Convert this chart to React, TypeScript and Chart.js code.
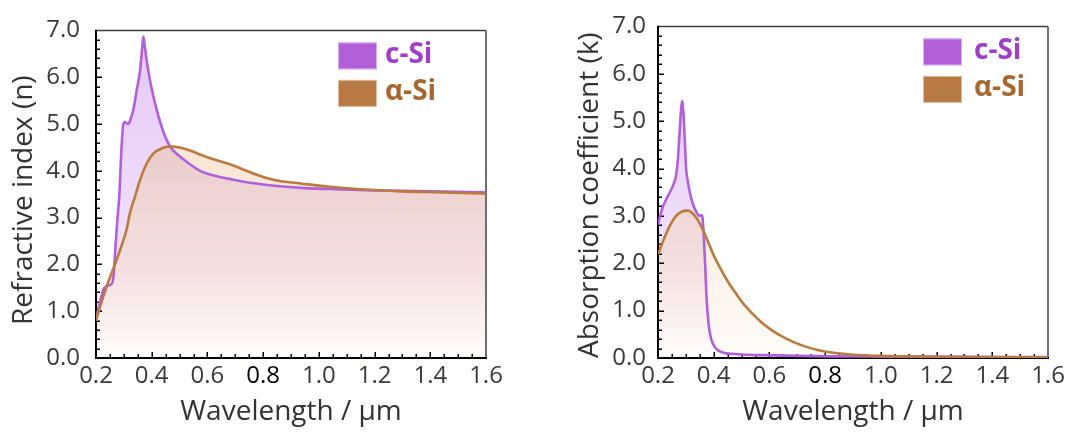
import { useEffect, useRef } from 'react';
import { Chart, registerables } from 'chart.js';

Chart.register(...registerables);

// ---------- axis definitions ----------
const X_MIN = 0.2;
const X_MAX = 1.6;
const X_STEP = 0.2;
const X_MINOR = 0.05;
const Y_MIN = 0;
const Y_MAX = 7;
const Y_STEP = 1;
const Y_MINOR = 0.2;

const seriesNames = ['c-Si', 'α-Si'];
const xTitle = 'Wavelength / µm';
const nTitle = 'Refractive index (n)';
const kTitle = 'Absorption coefficient (k)';

// ---------- refractive index n ----------
const nCSiWavelength = [
  0.2, 0.215, 0.228, 0.238, 0.25, 0.258, 0.263, 0.268, 0.276, 0.284, 0.29, 0.296,
  0.302, 0.31, 0.316, 0.325, 0.334, 0.346, 0.358, 0.364, 0.37, 0.376, 0.382, 0.388,
  0.4, 0.418, 0.442, 0.466, 0.5, 0.537, 0.573, 0.63, 0.693, 0.76, 0.86, 0.95, 1.04,
  1.2, 1.3, 1.4, 1.6,
];
const nCSiValue = [
  0.82, 1.22, 1.48, 1.53, 1.56, 1.6, 1.75, 2.2, 2.9, 3.5, 4.3, 4.9,
  5.04, 5.02, 5.0, 5.12, 5.3, 5.72, 6.13, 6.5, 6.87, 6.62, 6.35, 6.13,
  5.75, 5.3, 4.83, 4.52, 4.31, 4.14, 4.0, 3.89, 3.81, 3.74, 3.67, 3.63, 3.61,
  3.58, 3.57, 3.56, 3.54,
];
const nASiWavelength = [
  0.2, 0.22, 0.238, 0.25, 0.268, 0.286, 0.31, 0.322, 0.34, 0.358, 0.376, 0.394,
  0.412, 0.43, 0.45, 0.47, 0.5, 0.54, 0.573, 0.63, 0.681, 0.74, 0.8, 0.86, 0.933,
  1.04, 1.17, 1.3, 1.45, 1.6,
];
const nASiValue = [
  0.8, 1.2, 1.52, 1.72, 2.0, 2.3, 2.75, 3.1, 3.45, 3.8, 4.08, 4.28,
  4.4, 4.46, 4.51, 4.52, 4.5, 4.43, 4.35, 4.23, 4.14, 4.0, 3.87, 3.78, 3.73,
  3.66, 3.6, 3.56, 3.54, 3.51,
];

// ---------- absorption coefficient k ----------
const kCSiWavelength = [
  0.2, 0.215, 0.232, 0.245, 0.255, 0.263, 0.27, 0.276, 0.281, 0.287, 0.292, 0.297,
  0.301, 0.309, 0.318, 0.327, 0.338, 0.348, 0.356, 0.36, 0.364, 0.369, 0.375, 0.381,
  0.387, 0.393, 0.405, 0.416, 0.435, 0.46, 0.5, 0.577, 0.7, 0.82, 1.0, 1.3, 1.6,
];
const kCSiValue = [
  2.82, 3.15, 3.38, 3.52, 3.66, 3.8, 4.1, 4.6, 5.1, 5.42, 5.1, 4.5,
  4.0, 3.66, 3.4, 3.22, 3.08, 3.0, 3.02, 2.95, 2.6, 2.0, 1.2, 0.75,
  0.5, 0.36, 0.22, 0.16, 0.11, 0.09, 0.075, 0.06, 0.045, 0.035, 0.03, 0.025, 0.02,
];
const kASiWavelength = [
  0.2, 0.222, 0.243, 0.265, 0.285, 0.307, 0.325, 0.342, 0.36, 0.38, 0.4, 0.425,
  0.45, 0.48, 0.51, 0.54, 0.57, 0.6, 0.64, 0.685, 0.73, 0.78, 0.83, 0.9, 1.0,
  1.15, 1.3, 1.6,
];
const kASiValue = [
  2.19, 2.52, 2.8, 3.0, 3.09, 3.11, 3.05, 2.92, 2.72, 2.45, 2.17, 1.88,
  1.62, 1.36, 1.12, 0.93, 0.76, 0.62, 0.47, 0.34, 0.24, 0.16, 0.11, 0.07, 0.045,
  0.03, 0.02, 0.01,
];

// ---------- styles ----------
const FONT = "'Open Sans', 'Noto Sans', sans-serif";
const PURPLE_LINE = '#b25fdd';
const BROWN_LINE = '#bb7a3e';
const PURPLE_BOX = '#b25ed8';
const BROWN_BOX = '#b87a45';
const PURPLE_TEXT = '#a23ccb';
const BROWN_TEXT = '#a8652e';
const TEXT = '#333333';

const LAVENDER_STOPS: [number, string][] = [
  [0, 'rgb(228,200,244)'],
  [1, 'rgb(246,236,252)'],
];
const PEACH_STOPS: [number, string][] = [
  [0, 'rgb(246,226,206)'],
  [0.45, 'rgb(248,232,216)'],
  [1, 'rgb(255,252,248)'],
];
const PINK_STOPS: [number, string][] = [
  [0, 'rgb(228,192,192)'],
  [0.4, 'rgb(236,207,205)'],
  [0.75, 'rgb(244,226,225)'],
  [1, 'rgb(255,253,253)'],
];

const pts = (xs: number[], ys: number[]) => xs.map((x, i) => ({ x, y: ys[i] }));

const decorPlugin = {
  id: 'decor',
  beforeDatasetsDraw(chart: any) {
    const { ctx, chartArea, scales } = chart;
    const { left, right, top, bottom } = chartArea;
    const x = scales.x;
    const y = scales.y;
    ctx.save();
    ctx.lineCap = 'butt';
    ctx.strokeStyle = '#3c3c3c';
    ctx.lineWidth = 1.5;
    ctx.beginPath();
    ctx.moveTo(left, top);
    ctx.lineTo(right, top);
    ctx.stroke();
    ctx.strokeStyle = '#6e6e6e';
    ctx.lineWidth = 2;
    ctx.beginPath();
    ctx.moveTo(right, top);
    ctx.lineTo(right, bottom);
    ctx.stroke();
    ctx.strokeStyle = '#000';
    ctx.lineWidth = 1.5;
    const nx = Math.round((X_MAX - X_MIN) / X_MINOR);
    const perMajorX = Math.round(X_STEP / X_MINOR);
    for (let i = 1; i < nx; i++) {
      const px = Math.round(x.getPixelForValue(X_MIN + i * X_MINOR)) + 0.25;
      const len = i % perMajorX === 0 ? 6 : 4;
      ctx.beginPath();
      ctx.moveTo(px, bottom);
      ctx.lineTo(px, bottom - len);
      ctx.stroke();
    }
    const ny = Math.round((Y_MAX - Y_MIN) / Y_MINOR);
    const perMajorY = Math.round(Y_STEP / Y_MINOR);
    for (let i = 1; i < ny; i++) {
      const py = Math.round(y.getPixelForValue(Y_MIN + i * Y_MINOR)) + 0.25;
      const len = i % perMajorY === 0 ? 6 : 4;
      ctx.beginPath();
      ctx.moveTo(left, py);
      ctx.lineTo(left + len, py);
      ctx.stroke();
    }
    ctx.strokeStyle = '#000';
    ctx.lineWidth = 2;
    ctx.beginPath();
    ctx.moveTo(left, top - 0.75);
    ctx.lineTo(left, bottom);
    ctx.lineTo(right + 1, bottom);
    ctx.stroke();
    ctx.restore();
  },
  afterDraw(chart: any, _args: any, opts: any) {
    const { ctx, chartArea } = chart;
    const { left, top, bottom } = chartArea;
    ctx.save();
    ctx.fillStyle = TEXT;
    ctx.font = `400 28px ${FONT}`;
    ctx.textAlign = 'center';
    ctx.textBaseline = 'middle';
    ctx.translate(left + opts.titleDX, (top + bottom) / 2 + opts.titleDY);
    ctx.rotate(-Math.PI / 2);
    ctx.fillText(opts.yTitle, 0, 0);
    ctx.restore();

    ctx.save();
    const bx = left + opts.legendDX;
    const boxW = 39;
    const boxH = 27;
    const entries = [
      { name: seriesNames[0], box: PURPLE_BOX, text: PURPLE_TEXT },
      { name: seriesNames[1], box: BROWN_BOX, text: BROWN_TEXT },
    ];
    entries.forEach((e, i) => {
      const by = top + 12 + i * 37.5;
      ctx.fillStyle = e.box;
      ctx.fillRect(bx, by, boxW, boxH);
      ctx.strokeStyle = 'rgba(255,255,255,0.5)';
      ctx.lineWidth = 1;
      ctx.strokeRect(bx + 0.5, by + 0.5, boxW - 1, boxH - 1);
      ctx.fillStyle = e.text;
      ctx.font = `bold 28px ${FONT}`;
      ctx.textAlign = 'left';
      ctx.textBaseline = 'middle';
      ctx.fillText(e.name, bx + boxW + opts.legendGap, by + boxH / 2 - 1);
    });
    ctx.restore();
  },
};

type PanelProps = {
  left: number;
  width: number;
  yAxisWidth: number;
  yLabelPad: number;
  rightPad: number;
  yTitle: string;
  titleDX: number;
  titleDY: number;
  legendDX: number;
  legendGap: number;
  cSi: { x: number; y: number }[];
  aSi: { x: number; y: number }[];
};

const isSpecial = (c: any) => !!c.tick && Math.abs(c.tick.value - 0.8) < 1e-6;
const tickFont = (c: any) => ({ family: FONT, size: 24, weight: isSpecial(c) ? '500' : '400' } as any);

function Panel(p: PanelProps) {
  const ref = useRef<HTMLCanvasElement | null>(null);
  useEffect(() => {
    const canvas = ref.current!;
    const chart = new Chart(canvas, {
      type: 'line',
      data: {
        datasets: [
          {
            label: seriesNames[1],
            data: p.aSi,
            borderColor: BROWN_LINE,
            borderWidth: 2.6,
            pointRadius: 0,
            cubicInterpolationMode: 'monotone',
            fill: false,
          } as any,
          {
            label: seriesNames[0],
            data: p.cSi,
            borderColor: PURPLE_LINE,
            borderWidth: 2.6,
            pointRadius: 0,
            cubicInterpolationMode: 'monotone',
            fill: false,
          } as any,
        ],
      },
      options: {
        responsive: false,
        animation: false,
        devicePixelRatio: 1,
        layout: { padding: { top: 17, right: p.rightPad, left: 0, bottom: 0 } },
        plugins: {
          legend: { display: false },
          tooltip: { enabled: false },
          filler: { drawTime: 'beforeDatasetsDraw' },
          decor: {
            yTitle: p.yTitle,
            titleDX: p.titleDX,
            titleDY: p.titleDY,
            legendDX: p.legendDX,
            legendGap: p.legendGap,
          },
        } as any,
        scales: {
          x: {
            type: 'linear',
            min: X_MIN,
            max: X_MAX,
            grid: { display: false, drawTicks: false },
            border: { display: false },
            ticks: {
              stepSize: X_STEP,
              autoSkip: false,
              maxRotation: 0,
              padding: 4,
              font: tickFont,
              color: (c: any) => (isSpecial(c) ? '#000' : '#3a3a3a'),
              callback: (v: any) => Number(v).toFixed(1),
            },
            title: {
              display: true,
              text: xTitle,
              color: TEXT,
              font: { family: FONT, size: 28, weight: '400' } as any,
              padding: { top: 0, bottom: 5 },
            },
            afterFit: (s: any) => {
              s.height = 76;
            },
          },
          y: {
            type: 'linear',
            min: Y_MIN,
            max: Y_MAX,
            grid: { display: false, drawTicks: false },
            border: { display: false },
            ticks: {
              stepSize: Y_STEP,
              padding: p.yLabelPad,
              color: '#3a3a3a',
              font: { family: FONT, size: 24, weight: '400' } as any,
              callback: (v: any) => Number(v).toFixed(1),
            },
            afterFit: (s: any) => {
              s.width = p.yAxisWidth;
            },
          },
        },
      },
      plugins: [decorPlugin as any],
    });

    const { top, bottom } = chart.chartArea;
    const grad = (stops: [number, string][]) => {
      const g = chart.ctx.createLinearGradient(0, top, 0, bottom);
      stops.forEach(([o, c]) => g.addColorStop(o, c));
      return g;
    };
    (chart.data.datasets[0] as any).fill = { target: 1, above: grad(PEACH_STOPS), below: grad(LAVENDER_STOPS) };
    const pink = grad(PINK_STOPS);
    (chart.data.datasets[1] as any).fill = { target: 'origin', above: pink, below: pink };
    chart.update();

    return () => chart.destroy();
  }, []);

  return (
    <canvas
      ref={ref}
      width={p.width}
      height={434}
      style={{ position: 'absolute', left: p.left, top: 0, width: p.width, height: 434 }}
    />
  );
}

export default function App() {
  return (
    <div style={{ position: 'fixed', left: 0, top: 0, width: 1073, height: 434, background: '#fff', overflow: 'hidden' }}>
      <Panel
        left={0}
        width={560}
        yAxisWidth={96}
        yLabelPad={16}
        rightPad={74}
        yTitle={nTitle}
        titleDX={-72}
        titleDY={6}
        legendDX={242}
        legendGap={8}
        cSi={pts(nCSiWavelength, nCSiValue)}
        aSi={pts(nASiWavelength, nASiValue)}
      />
      <Panel
        left={560}
        width={513}
        yAxisWidth={98}
        yLabelPad={12}
        rightPad={25}
        yTitle={kTitle}
        titleDX={-68}
        titleDY={3}
        legendDX={265}
        legendGap={12}
        cSi={pts(kCSiWavelength, kCSiValue)}
        aSi={pts(kASiWavelength, kASiValue)}
      />
    </div>
  );
}
